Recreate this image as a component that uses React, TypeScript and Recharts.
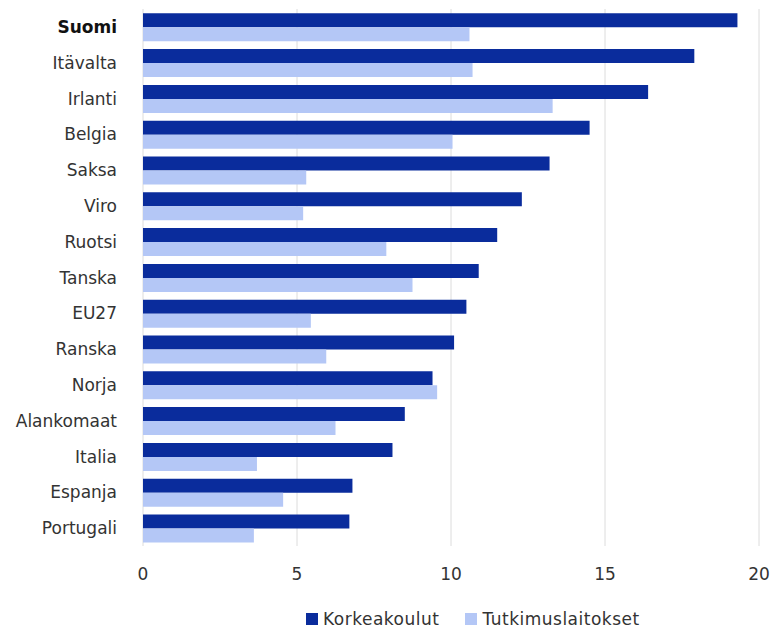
import { BarChart, Bar, XAxis, YAxis, CartesianGrid } from "recharts";

const maat = [
  "Suomi", "Itävalta", "Irlanti", "Belgia", "Saksa", "Viro", "Ruotsi", "Tanska",
  "EU27", "Ranska", "Norja", "Alankomaat", "Italia", "Espanja", "Portugali",
];
const korkeakoulut = [19.3, 17.9, 16.4, 14.5, 13.2, 12.3, 11.5, 10.9, 10.5, 10.1, 9.4, 8.5, 8.1, 6.8, 6.7];
const tutkimuslaitokset = [10.6, 10.7, 13.3, 10.05, 5.3, 5.2, 7.9, 8.75, 5.45, 5.95, 9.55, 6.25, 3.7, 4.55, 3.6];
const xTicks = [0, 5, 10, 15, 20];

const data = maat.map((maa, i) => ({
  maa,
  korkeakoulut: korkeakoulut[i],
  tutkimuslaitokset: tutkimuslaitokset[i],
}));

const DARK = "#0a2c9c";
const LIGHT = "#b4c7f6";
const FONT = "'DejaVu Sans', sans-serif";

const MaaTick = (props: { x?: number; y?: number; payload?: { value: string } }) => {
  const { x, y, payload } = props;
  const bold = payload?.value === "Suomi";
  return (
    <text
      x={x}
      y={y}
      dy={6}
      textAnchor="end"
      fontSize={17}
      fontFamily={FONT}
      fontWeight={bold ? "bold" : "normal"}
      fill={bold ? "#111" : "#333"}
    >
      {payload?.value}
    </text>
  );
};

export default function App() {
  return (
    <div style={{ position: "absolute", left: 0, top: 0, width: 774, height: 631, background: "#fff" }}>
      <BarChart
        width={774}
        height={631}
        data={data}
        layout="vertical"
        margin={{ top: 9, right: 15, left: 0, bottom: 55 }}
        barCategoryGap="12%"
        barGap={0}
      >
        <CartesianGrid horizontal={false} stroke="#dcdcdc" />
        <XAxis
          type="number"
          domain={[0, 20]}
          ticks={xTicks}
          tickLine={false}
          axisLine={false}
          tick={{ fontSize: 17, fontFamily: FONT, fill: "#333" }}
          tickMargin={16}
        />
        <YAxis
          type="category"
          dataKey="maa"
          width={143}
          tickLine={false}
          axisLine={false}
          tickMargin={20}
          tick={<MaaTick />}
          interval={0}
        />
        <Bar dataKey="korkeakoulut" fill={DARK} isAnimationActive={false} />
        <Bar dataKey="tutkimuslaitokset" fill={LIGHT} isAnimationActive={false} />
      </BarChart>
      {/* legend drawn by hand to match the original placement */}
      <div
        style={{
          position: "absolute",
          top: 609,
          left: 306,
          display: "flex",
          alignItems: "center",
          fontFamily: FONT,
          fontSize: 17,
          letterSpacing: 0.5,
          color: "#333",
          whiteSpace: "nowrap",
        }}
      >
        <span style={{ width: 12, height: 12, background: DARK, display: "inline-block", marginRight: 5 }} />
        <span>Korkeakoulut</span>
        <span style={{ width: 12, height: 12, background: LIGHT, display: "inline-block", marginLeft: 26, marginRight: 5 }} />
        <span>Tutkimuslaitokset</span>
      </div>
    </div>
  );
}
